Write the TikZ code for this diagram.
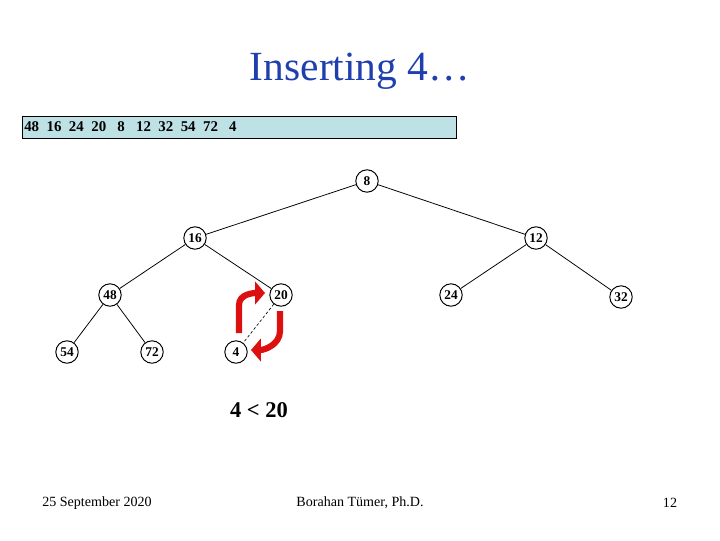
\documentclass[tikz,border=0pt]{standalone}
\usepackage{fontspec}
\setmainfont{Liberation Serif}
\usetikzlibrary{arrows.meta}
\definecolor{TitleBlue}{HTML}{1F3FAF}
\definecolor{ArrayCyan}{HTML}{BEE1E6}
\definecolor{SwapRed}{HTML}{DD1010}
\tikzset{
  heapnode/.style={circle,draw=black,line width=.7pt,fill=white,minimum size=.56cm,inner sep=0pt,font=\fontsize{9.5}{10}\selectfont\bfseries},
  heapedge/.style={draw=black,line width=.55pt},
  swapedge/.style={draw=black,line width=.45pt,dashed,dash pattern=on 2pt off 1.5pt},
  swaparrow/.style={draw=SwapRed,line width=4.4pt,
    -{Triangle[length=7pt,width=16pt]}},
  arraybox/.style={draw=black,line width=.7pt,fill=ArrayCyan},
  footer/.style={font=\fontsize{10}{12}\selectfont,inner sep=0pt}
}
\begin{document}
\begin{tikzpicture}[x=.025cm,y=.025cm]
  \useasboundingbox (0,0) rectangle (720,540);
  % title
  \node[font=\fontsize{29.5}{32}\selectfont,text=TitleBlue] (title) at (360,469) {Inserting 4\dots};
  % array
  \draw[arraybox] (22,402) rectangle (456,424);
  \node[anchor=west,inner sep=0pt,font=\fontsize{10.6}{12}\selectfont\bfseries] (arr) at (24,413)
    {48~~16~~24~~20~~~8~~~12~~32~~54~~72~~~4};
  % heap
  \node[heapnode] (n8)  at (367,359) {8};
  \node[heapnode] (n16) at (195,302) {16};
  \node[heapnode] (n12) at (536,302) {12};
  \node[heapnode] (n48) at (110,245) {48};
  \node[heapnode] (n20) at (281,245) {20};
  \node[heapnode] (n24) at (451,245) {24};
  \node[heapnode] (n32) at (621,243) {32};
  \node[heapnode] (n54) at (67,188)  {54};
  \node[heapnode] (n72) at (152,188) {72};
  \node[heapnode] (n4)  at (236,188) {4};
  \draw[heapedge] (n8) -- (n16);
  \draw[heapedge] (n8) -- (n12);
  \draw[heapedge] (n16) -- (n48);
  \draw[heapedge] (n16) -- (n20);
  \draw[heapedge] (n12) -- (n24);
  \draw[heapedge] (n12) -- (n32);
  \draw[heapedge] (n48) -- (n54);
  \draw[heapedge] (n48) -- (n72);
  \draw[swapedge] (n20) -- (n4);
  % swap arrows
  \coordinate (upstart) at (239,207);
  \coordinate (upend) at (265,247);
  \coordinate (downstart) at (280,229);
  \coordinate (downend) at (251,190);
  \draw[swaparrow] (upstart) -- ++(0,28) to[out=90,in=180] (upend);
  \draw[swaparrow] (downstart) -- ++(0,-20) to[out=-90,in=0] (downend);
  % comparison
  \node[font=\fontsize{16}{18}\selectfont\bfseries] (cmp) at (259,130) {4 < 20};
  % footer
  \node[footer] (date) at (97,37) {25 September 2020};
  \node[footer] (author) at (360,37) {Borahan Tümer, Ph.D.};
  \node[footer] (page) at (670,37) {12};
\end{tikzpicture}
\end{document}
